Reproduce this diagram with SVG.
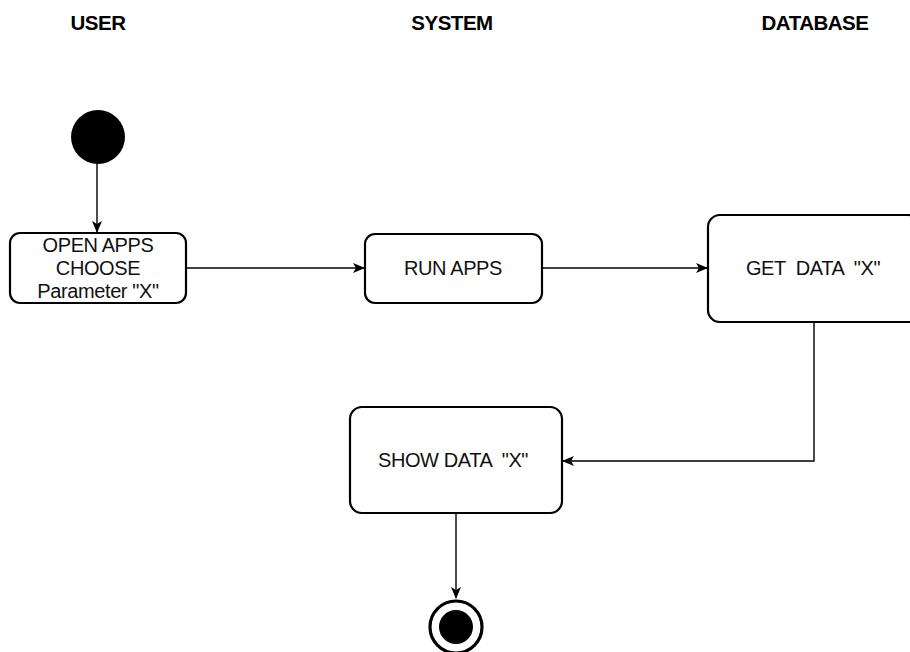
<svg xmlns="http://www.w3.org/2000/svg" width="910" height="652" viewBox="0 0 910 652">
<style>
.hdr{font-family:"Liberation Sans",Arial,sans-serif;font-weight:bold;font-size:20.5px;fill:#000;text-anchor:middle;letter-spacing:-0.5px}
.box{fill:#fff;stroke:#000;stroke-width:2.2}
.lbl{font-family:"Liberation Sans",Arial,sans-serif;font-size:20px;fill:#111;text-anchor:middle;letter-spacing:-0.4px}
.con{fill:none;stroke:#000;stroke-width:1.4}
</style>
<defs>
<marker id="arr" viewBox="0 0 12 10" refX="11" refY="5" markerWidth="12" markerHeight="10" markerUnits="userSpaceOnUse" orient="auto">
<path d="M0,0 L12,5 L0,10 L3,5 Z" fill="#000"/>
</marker>
</defs>
<rect width="910" height="652" fill="#fff"/>
<g id="headers">
<text class="hdr" x="98" y="30">USER</text>
<text class="hdr" x="452" y="30">SYSTEM</text>
<text class="hdr" x="815" y="30">DATABASE</text>
</g>
<g id="connectors">
<line class="con" x1="97" y1="163" x2="97" y2="232" marker-end="url(#arr)"/>
<line class="con" x1="186" y1="268" x2="364" y2="268" marker-end="url(#arr)"/>
<line class="con" x1="542" y1="268" x2="707" y2="268" marker-end="url(#arr)"/>
<polyline class="con" points="814,322 814,461 563,461" marker-end="url(#arr)"/>
<line class="con" x1="456" y1="513" x2="456" y2="598" marker-end="url(#arr)"/>
</g>
<g id="start">
<circle cx="98" cy="137" r="27" fill="#000"/>
</g>
<g id="open-apps">
<rect class="box" x="10" y="233" width="176" height="70" rx="10"/>
<text class="lbl" x="98" y="252">OPEN APPS</text>
<text class="lbl" x="98" y="275">CHOOSE</text>
<text class="lbl" x="98" y="298">Parameter "X"</text>
</g>
<g id="run-apps">
<rect class="box" x="365" y="234" width="177" height="69" rx="10"/>
<text class="lbl" x="453" y="275">RUN APPS</text>
</g>
<g id="get-data">
<rect class="box" x="708" y="215" width="212" height="107" rx="12"/>
<text class="lbl" x="813" y="275" xml:space="preserve">GET  DATA  "X"</text>
</g>
<g id="show-data">
<rect class="box" x="350" y="407" width="212" height="106" rx="12"/>
<text class="lbl" x="453" y="467" xml:space="preserve">SHOW DATA  "X"</text>
</g>
<g id="end">
<circle cx="456" cy="627" r="26" fill="#fff" stroke="#000" stroke-width="3.2"/>
<circle cx="456" cy="627" r="17" fill="#000"/>
</g>
</svg>
